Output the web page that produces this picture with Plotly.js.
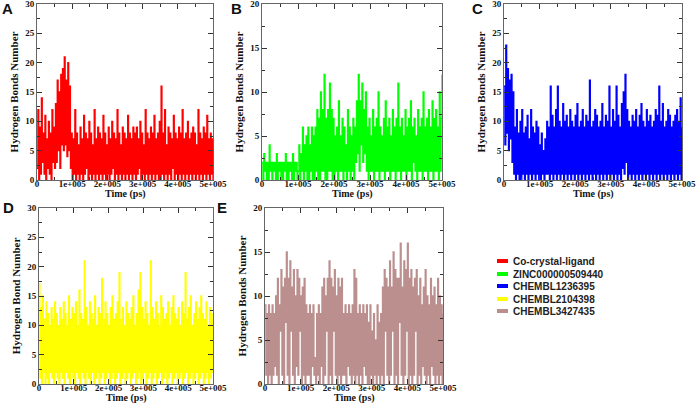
<!DOCTYPE html>
<html>
<head>
<meta charset="utf-8">
<script src="https://cdn.plot.ly/plotly-3.0.1.min.js"></script>
<style>html,body{margin:0;padding:0;background:#fff;}#chart{width:699px;height:404px;}</style>
</head>
<body>
<div id="chart"></div>
<script>
// ---------------- DATA ----------------
const timeMax = 500000; // ps, simulation length
const seriesNames = ['Co-crystal-ligand', 'ZINC000000509440', 'CHEMBL1236395', 'CHEMBL2104398', 'CHEMBL3427435'];
const panelLetters = ['A', 'B', 'C', 'D', 'E'];
const yTitles = ['Hydrogen Bonds Number', 'Hydrogen Bonds Number', 'Hydrogen Bonds Number', 'Hydrogen Bond Number', 'Hydrogen Bonds Number'];
const xTitle = 'Time (ps)';
const xTickVals = [0, 100000, 200000, 300000, 400000, 500000];
const xTickText = ['0', '1e+005', '2e+005', '3e+005', '4e+005', '5e+005'];
const yMaxes = [30, 20, 30, 30, 20];

const hbondsA = [
 2,12,0,9,1,14,3,8,1,11,0,7,2,10,1,8,0,12,3,9,2,
 13,3,17,5,15,2,18,6,19,5,21,6,17,4,20,5,16,2,
 8,0,7,1,12,0,8,1,6,0,9,1,7,0,11,1,8,2,7,0,
 10,1,8,0,6,1,12,0,7,1,9,0,8,1,7,0,11,1,8,0,
 6,1,9,0,7,1,10,2,8,0,7,1,12,0,8,1,6,0,9,1,
 8,0,7,1,11,0,8,1,7,0,9,1,8,0,9,1,7,2,10,0,
 8,1,6,0,12,1,8,0,7,1,9,0,8,1,11,0,7,1,8,0,
 10,0,16,1,8,0,12,1,6,0,9,1,8,0,7,2,11,0,8,1,
 7,0,9,1,8,0,12,1,7,0,8,1,10,0,7,1,8,0,9,1,
 8,0,6,1,12,0,8,1,7,0,9,1,8,0,11,1,7,0,8,1,
 7,0];

const hbondsB = [
 2,0,3,1,2,0,2,0,4,1,2,0,2,1,2,0,3,0,2,1,2,0,2,0,2,1,3,0,2,0,2,1,2,0,3,0,2,1,2,0,
 1,4,0,3,1,6,0,4,1,5,0,6,0,4,1,6,0,5,0,6,
 1,8,0,7,0,10,1,8,1,12,0,7,0,8,1,11,1,8,0,7,
 0,5,1,6,0,9,1,5,1,7,0,6,1,4,0,8,1,6,0,5,1,7,0,6,
 2,9,3,12,1,9,4,11,2,8,3,10,
 1,6,0,7,1,5,1,8,0,6,1,7,1,10,0,6,1,5,1,7,
 0,9,1,6,1,7,0,5,1,8,1,6,0,7,1,11,1,6,0,7,
 1,5,1,8,0,6,1,7,1,9,0,6,2,7,1,5,0,8,1,6,
 1,7,0,10,1,6,1,7,0,8,1,6,1,9,0,7,1,8,1,6,
 0,10,1,7,12];

const hbondsC = [
 16,6,23,8,19,5,17,7,18,3,15,
 1,9,0,12,1,8,0,10,0,12,1,8,0,9,1,11,0,7,1,12,0,9,1,8,0,10,1,9,0,
 6,0,8,1,5,0,7,1,
 10,1,9,0,16,1,11,0,9,1,12,0,16,1,10,0,9,1,13,0,
 10,1,11,0,9,1,12,0,10,1,9,0,11,1,13,0,9,1,10,0,
 12,1,9,0,11,1,10,0,17,1,9,0,10,1,12,0,11,1,9,0,
 10,1,13,0,9,1,11,0,10,1,16,0,9,1,12,0,10,1,16,0,
 11,1,9,0,13,2,15,1,18,3,12,0,10,1,9,0,11,1,10,0,
 12,1,9,0,11,1,13,0,10,1,9,0,12,1,10,0,11,1,9,0,
 10,1,12,0,11,1,16,0,10,1,13,0,9,1,10,0,12,1,11,0,
 9,1,10,0,11,1,12,0,10,1,14,0,9];

const hbondsD = [
 17,1,13,0,15,2,11,0,14,1,12,0,10,2,13,1,11,0,14,2,
 12,1,10,0,13,2,11,1,14,0,12,2,10,1,15,0,11,2,13,1,
 12,0,14,2,10,1,16,0,12,2,11,1,21,0,13,2,10,1,14,0,
 12,2,11,0,15,1,10,2,13,0,12,1,18,2,11,0,14,1,12,2,
 10,0,13,1,15,2,11,0,12,1,14,2,19,0,11,1,13,2,10,0,
 14,1,12,2,11,0,13,1,15,2,10,0,12,1,16,2,19,0,13,1,
 11,2,14,0,12,1,10,2,21,0,13,1,11,2,14,0,12,1,10,2,
 15,0,13,1,11,2,12,0,14,1,10,2,13,0,15,1,12,2,11,0,
 13,1,10,2,14,0,12,1,19,2,11,0,13,1,15,2,10,0,12,1,
 14,2,11,0,13,1,15,2,12,0,11,1,14,2,10,0,13,1,12,2,
 11];

const hbondsE = [
 9,1,8,0,9,1,8,0,9,1,8,2,
 10,1,12,0,9,6,13,1,11,0,12,7,15,1,12,0,14,6,11,1,13,0,10,2,13,1,12,6,10,0,11,1,12,0,9,1,
 8,1,9,0,8,2,9,1,3,0,8,1,9,0,8,2,
 11,0,12,1,10,6,12,0,14,1,12,0,11,6,13,1,10,0,12,1,11,0,12,1,
 8,1,9,0,8,2,9,1,8,0,9,1,13,0,12,1,8,0,9,1,8,0,9,2,8,1,9,0,
 7,0,9,1,6,0,8,1,5,0,9,1,7,0,8,1,
 11,0,13,6,12,1,11,0,14,1,11,6,15,0,13,1,12,0,12,7,16,1,11,0,14,1,13,6,16,0,12,1,13,0,11,1,12,6,13,0,
 10,1,12,0,9,2,11,1,13,0,10,1,9,0,12,2,10,1,11,0,9,1,12,0,10,1,9,0,8];

const allSeries = [hbondsA, hbondsB, hbondsC, hbondsD, hbondsE];

// ---------------- STYLE / LAYOUT ----------------
const W = 699, H = 404;
const seriesColors = ['#ff0000', '#00ff00', '#0000ff', '#ffff00', '#bc8f8f'];
// plot-area pixel boxes [left, right, top, bottom]
const boxes = [
  [37, 213, 4, 180],
  [262, 442, 4, 180],
  [504, 682, 4, 180],
  [39, 213, 208, 384],
  [265, 443, 208, 384]
];
const letterPos = [[7, 8], [236, 8], [477, 8], [8, 207], [222, 207]];
const xTitleOffset = 14;   // px below the plot bottom (title centre)
const legendRows = [261, 274, 286, 299, 311];
const serif = 'Liberation Serif, Times New Roman, serif';
const sans = 'Liberation Sans, Arial, sans-serif';

function timeAxis(n) {
  const out = [];
  for (let i = 0; i < n; i++) out.push(i * timeMax / (n - 1));
  return out;
}

const traces = [];
const layout = {
  width: W, height: H,
  margin: {l: 0, r: 0, t: 0, b: 0},
  paper_bgcolor: '#fff', plot_bgcolor: '#fff',
  showlegend: false,
  annotations: [], shapes: []
};

allSeries.forEach((vals, k) => {
  const s = k === 0 ? '' : String(k + 1);
  traces.push({
    type: 'scatter', mode: 'lines',
    x: timeAxis(vals.length), y: vals,
    xaxis: 'x' + s, yaxis: 'y' + s,
    name: seriesNames[k],
    line: {color: seriesColors[k], width: 1.3, shape: 'hv'},
    hoverinfo: 'skip', showlegend: false
  });
  const b = boxes[k];
  const common = {
    showline: true, mirror: 'allticks', linecolor: '#666', linewidth: 1,
    ticks: 'inside', ticklen: 5, tickwidth: 1, tickcolor: '#333',
    showgrid: false, zeroline: false, automargin: false, fixedrange: true,
    ticklabeloverflow: 'allow',
    tickfont: {family: serif, size: 9, weight: 700, color: '#111'}
  };
  layout['xaxis' + s] = Object.assign({}, common, {
    domain: [b[0] / W, b[1] / W], anchor: 'y' + s,
    range: [0, timeMax], tickmode: 'array', tickvals: xTickVals, ticktext: xTickText,
    ticklabelstandoff: -5,
    minor: {ticks: 'inside', ticklen: 3, dtick: 50000, tickcolor: '#333'}
  });
  layout['yaxis' + s] = Object.assign({}, common, {
    domain: [1 - b[3] / H, 1 - b[2] / H], anchor: 'x' + s,
    range: [0, yMaxes[k]], dtick: 5, tick0: 0,
    minor: {ticks: 'inside', ticklen: 3, dtick: 2.5, tickcolor: '#333'},
    title: {text: yTitles[k], font: {family: serif, size: 11, weight: 700, color: '#111'}, standoff: 4}
  });
  // x-axis title (placed as a paper annotation so the bottom row keeps its spacing)
  layout.annotations.push({
    xref: 'paper', yref: 'paper', x: (b[0] + b[1]) / 2 / W, y: 1 - (b[3] + xTitleOffset) / H,
    xanchor: 'center', yanchor: 'middle', showarrow: false,
    text: xTitle, font: {family: serif, size: 10, weight: 700, color: '#111'}
  });
  layout.annotations.push({
    xref: 'paper', yref: 'paper', x: letterPos[k][0] / W, y: 1 - letterPos[k][1] / H,
    xanchor: 'center', yanchor: 'middle', showarrow: false,
    text: panelLetters[k], font: {family: sans, size: 15, weight: 700, color: '#111'}
  });
  const cy = legendRows[k];
  layout.shapes.push({
    type: 'rect', xref: 'paper', yref: 'paper',
    x0: 497 / W, x1: 508 / W, y0: 1 - (cy + 2) / H, y1: 1 - (cy - 2) / H,
    fillcolor: seriesColors[k], line: {width: 0}
  });
  layout.annotations.push({
    xref: 'paper', yref: 'paper', x: 511 / W, y: 1 - cy / H,
    xanchor: 'left', yanchor: 'middle', showarrow: false,
    text: seriesNames[k], font: {family: sans, size: 10, weight: 700, color: '#222'}
  });
});

Plotly.newPlot('chart', traces, layout, {staticPlot: true, displayModeBar: false});
</script>
</body>
</html>
